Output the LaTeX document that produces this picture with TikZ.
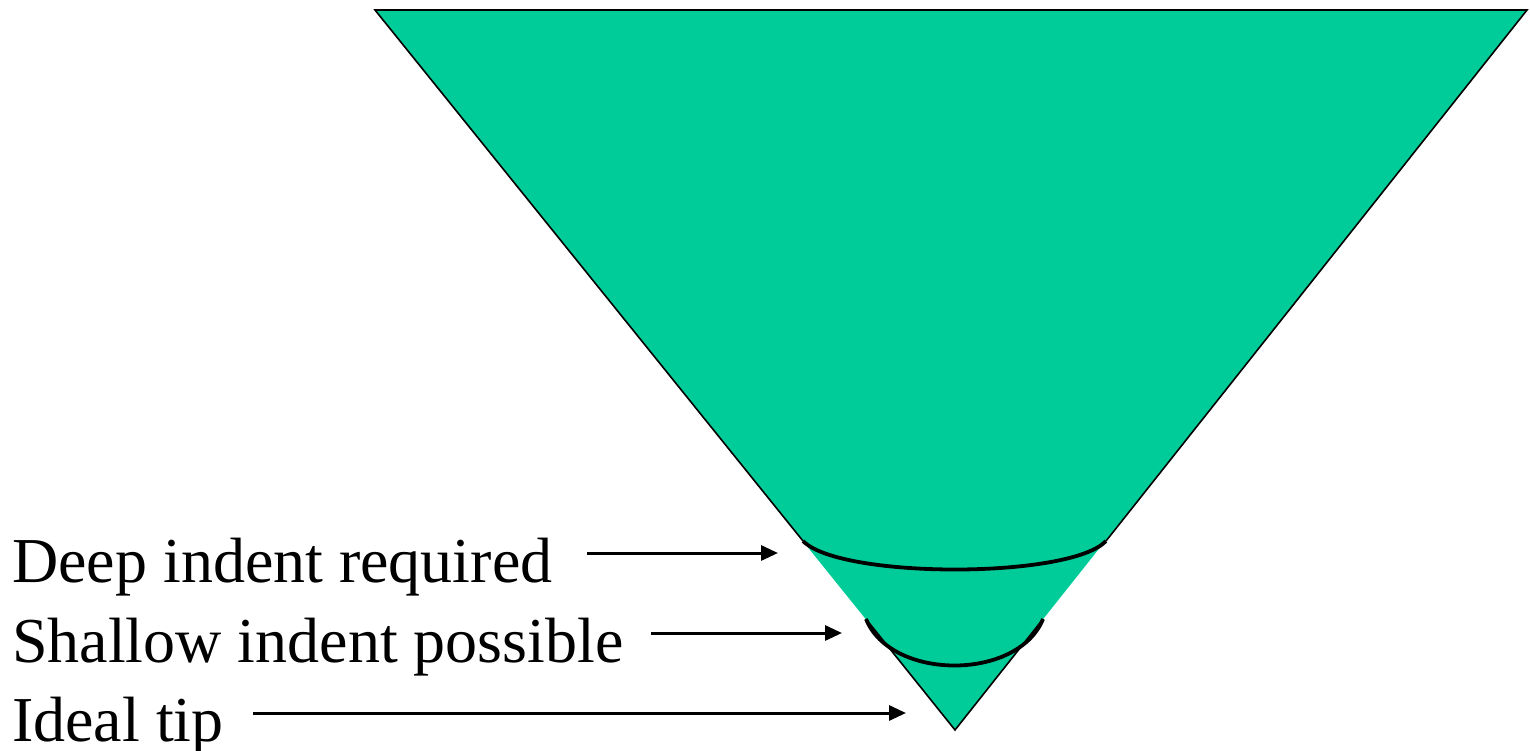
\documentclass[tikz,border=0pt]{standalone}
\usepackage{fontspec}
\setmainfont{Liberation Serif}
\usetikzlibrary{arrows.meta}
\definecolor{cone}{RGB}{0,204,153}
\begin{document}
\begin{tikzpicture}[x=1pt,y=-1pt,
  lbl/.style={anchor=base west,inner sep=0pt,font=\fontsize{64}{70}\selectfont},
  edge/.style={draw=black,line width=1.6pt,line join=miter},
  indent/.style={draw=black,line width=3.8pt},
  arr/.style={draw=black,line width=3pt,-{Triangle[length=17pt,width=15pt]}}]
\useasboundingbox (0,0) rectangle (1530,750);
% cone
\coordinate (tl) at (375,10);
\coordinate (tr) at (1527,10);
\coordinate (tip) at (955,730);
\coordinate (dl) at (803,541);
\coordinate (dr) at (1106,541);
\coordinate (sl) at (866,619);
\coordinate (sr) at (1043,619);
\fill[cone] (tl) -- (tr) -- (tip) -- cycle;
\draw[edge] (dl) -- (tl) -- (tr) -- (dr);
\draw[edge] (sl) -- (tip) -- (sr);
% indents
\draw[indent] (dl) .. controls (840,579) and (1070,579) .. (dr);
\draw[indent] (sl) .. controls (891,681) and (1018,681) .. (sr);
% labels
\node[lbl] (deep) at (12,582) {Deep indent required};
\node[lbl] (shallow) at (12,662) {Shallow indent possible};
\node[lbl] (ideal) at (12,741) {Ideal tip};
% arrow end points
\coordinate (deepS) at (587,553);
\coordinate (deepE) at (778,553);
\coordinate (shalS) at (651,633);
\coordinate (shalE) at (842,633);
\coordinate (idealS) at (253,713);
\coordinate (idealE) at (906,713);
\draw[arr] (deepS) -- (deepE);
\draw[arr] (shalS) -- (shalE);
\draw[arr] (idealS) -- (idealE);
\end{tikzpicture}
\end{document}
